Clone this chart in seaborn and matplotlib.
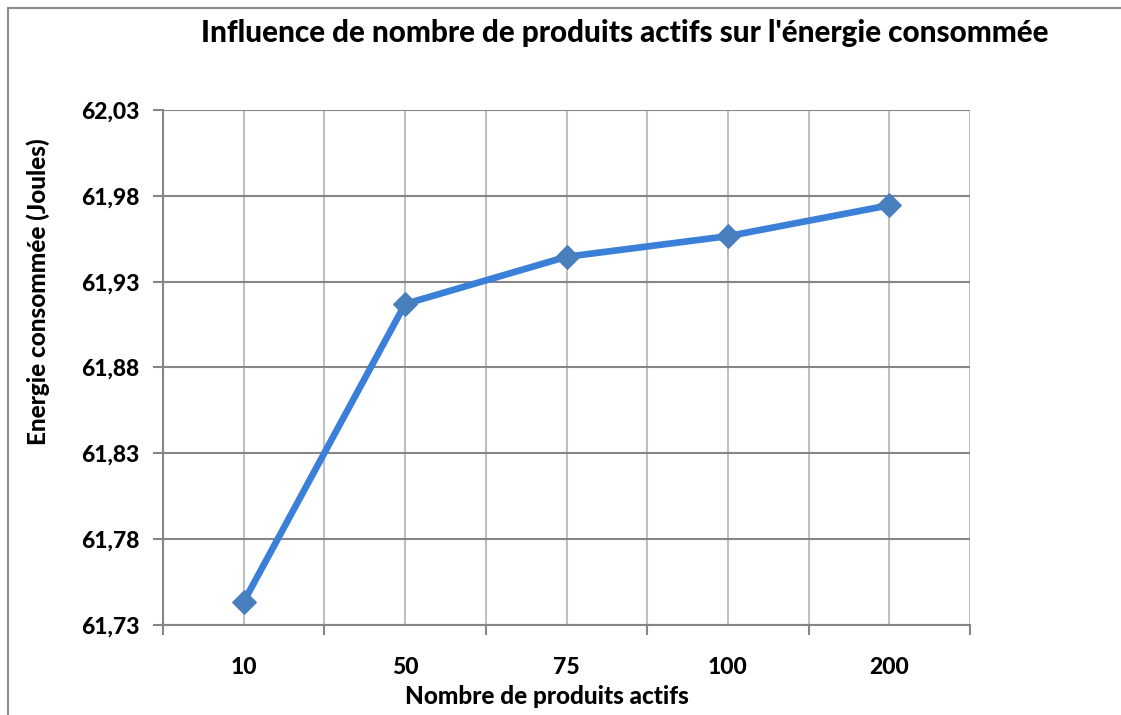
import matplotlib
matplotlib.use("Agg")
import matplotlib.pyplot as plt
from matplotlib.patches import Rectangle
from matplotlib.ticker import FixedLocator, FuncFormatter
import seaborn as sns
import pandas as pd
import numpy as np

# Data
nb_produits = ["10", "50", "75", "100", "200"]
energie = [61.7435, 61.9170, 61.9445, 61.9565, 61.9745]
y_ticks = [61.73, 61.78, 61.83, 61.88, 61.93, 61.98, 62.03]

sns.set_theme(style="white")
plt.rcParams["font.family"] = ["Lato", "DejaVu Sans"]

df = pd.DataFrame({"produits": nb_produits, "energie": energie})

fig = plt.figure(figsize=(11.21, 7.15), dpi=100)
ax = fig.add_axes([163 / 1121, 1 - 625 / 715, (970 - 163) / 1121, (625 - 110) / 715])

sns.lineplot(data=df, x="produits", y="energie", ax=ax, sort=False,
             color="#3a80d8", linewidth=4.8, marker="D", markersize=12.5,
             markerfacecolor="#4a7fbe", markeredgecolor="#4a7fbe", zorder=5)

n = len(nb_produits)
ax.set_xlim(-0.5, n - 0.5)
ax.set_ylim(y_ticks[0], y_ticks[-1])

# Vertical grid at category centres and boundaries
ax.xaxis.set_major_locator(FixedLocator(np.arange(n)))
ax.xaxis.set_minor_locator(FixedLocator(np.arange(n + 1) - 0.5))
ax.set_xticklabels(nb_produits)
ax.grid(True, axis="x", which="both", color="#c0c0c0", linewidth=1.5)
ax.tick_params(axis="x", which="major", length=0, pad=23, labelsize=16.5)
ax.tick_params(axis="x", which="minor", length=7, width=1.5, color="#868686",
               direction="out", bottom=True)

ax.set_yticks(y_ticks)
ax.yaxis.set_major_formatter(FuncFormatter(lambda v, p: f"{v:.2f}".replace(".", ",")))
ax.grid(True, axis="y", which="major", color="#868686", linewidth=1.5)
ax.tick_params(axis="y", length=7, width=1.5, color="#868686", direction="out",
               left=True, pad=10, labelsize=16.5)
for lbl in ax.get_xticklabels() + ax.get_yticklabels():
    lbl.set_fontweight(900)
    lbl.set_color("#000000")

ax.set_axisbelow(True)
for side in ["top", "right"]:
    ax.spines[side].set_visible(False)
ax.spines["left"].set_color("#868686")
ax.spines["left"].set_linewidth(1.5)
ax.spines["bottom"].set_color("#868686")
ax.spines["bottom"].set_linewidth(1.5)

ax.set_xlabel("")
ax.set_ylabel("")

fig.text(625 / 1121, 1 - 33 / 715, "Influence de nombre de produits actifs sur l'énergie consommée",
         ha="center", va="center", fontsize=21.3, fontweight=900, color="#000000")
fig.text(547 / 1121, 1 - 697 / 715, "Nombre de produits actifs",
         ha="center", va="center", fontsize=17.5, fontweight=900, color="#000000")
fig.text(38 / 1121, 1 - 292 / 715, "Energie consommée (Joules)", rotation=90,
         ha="center", va="center", fontsize=17.5, fontweight=900, color="#000000")

# Chart frame
fig.patches.append(Rectangle((8 / 1121, -0.05), 1.2, 1 - 8 / 715 + 0.05,
                             transform=fig.transFigure, fill=False,
                             edgecolor="#8c8c8c", linewidth=1.5))

fig.savefig("out.png", dpi=100, facecolor="white")
